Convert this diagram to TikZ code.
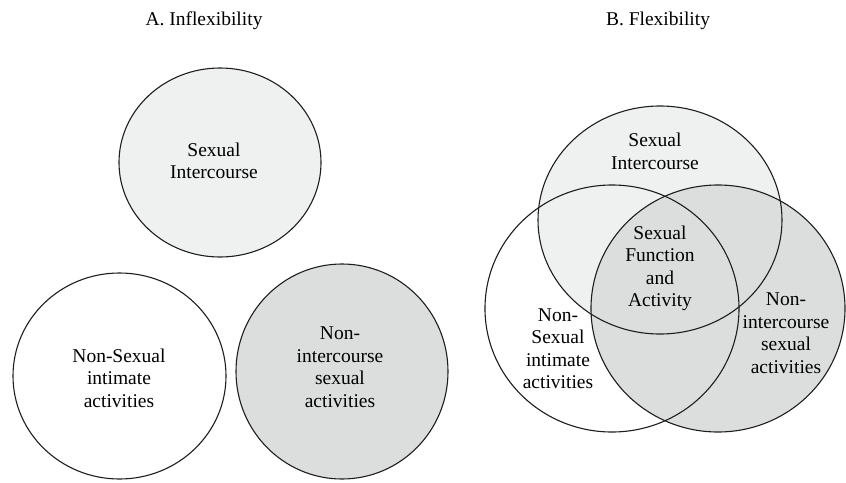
\documentclass[tikz,border=0pt]{standalone}
\usepackage{fontspec}
\setmainfont{Liberation Serif}
\definecolor{lightfill}{HTML}{EFF0F0}
\definecolor{darkfill}{HTML}{DCDDDD}
\definecolor{edge}{HTML}{1E1E1E}
\begin{document}
\begin{tikzpicture}[x=1pt,y=-1pt,
  ring/.style={draw=edge,line width=1.1pt},
  lbl/.style={align=center,inner sep=0pt,font=\fontsize{19.5}{22.5}\selectfont},
  ttl/.style={inner sep=0pt,font=\fontsize{19.5}{22.5}\selectfont}]
\useasboundingbox (0,0) rectangle (846,482);
% Panel A
\node[ttl] (ta) at (204,21) {A. Inflexibility};
\fill[lightfill] (220,162.5) ellipse [x radius=101,y radius=94.5];
\draw[ring] (220,162.5) ellipse [x radius=101,y radius=94.5];
\fill[white] (119.5,376) ellipse [x radius=106.5,y radius=103];
\draw[ring] (119.5,376) ellipse [x radius=106.5,y radius=103];
\fill[darkfill] (342,371.5) ellipse [x radius=106,y radius=107.5];
\draw[ring] (342,371.5) ellipse [x radius=106,y radius=107.5];
\node[lbl] (a1) at (214,161) {Sexual\\Intercourse};
\node[lbl] (a2) at (119,378) {Non-Sexual\\intimate\\activities};
\node[lbl] (a3) at (340,367) {Non-\\intercourse\\sexual\\activities};
% Panel B
\node[ttl] (tb) at (658,21) {B. Flexibility};
\fill[white] (612,308.5) ellipse [x radius=127,y radius=123.5];
\fill[lightfill] (660,220) ellipse [x radius=122,y radius=114];
\fill[darkfill] (718,308.5) ellipse [x radius=127,y radius=123.5];
\draw[ring] (612,308.5) ellipse [x radius=127,y radius=123.5];
\draw[ring] (660,220) ellipse [x radius=122,y radius=114];
\draw[ring] (718,308.5) ellipse [x radius=127,y radius=123.5];
\node[lbl] (b1) at (655,151.5) {Sexual\\Intercourse};
\node[lbl] (b2) at (660,268.5) {Sexual\\Function\\and\\Activity};
\node[lbl] (b3) at (558,348.5) {Non-\\Sexual\\intimate\\activities};
\node[lbl] (b4) at (786,333) {Non-\\intercourse\\sexual\\activities};
\end{tikzpicture}
\end{document}
